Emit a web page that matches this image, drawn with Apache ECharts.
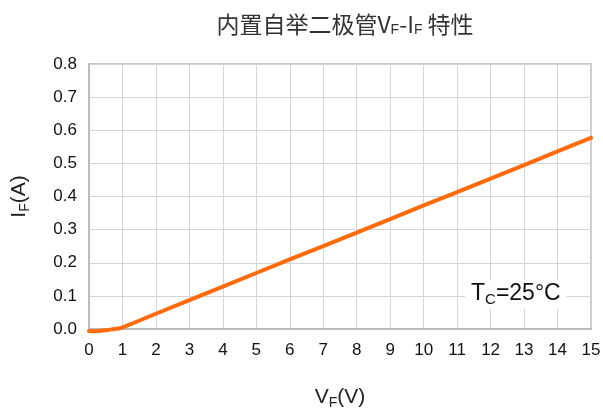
<!DOCTYPE html>
<html><head><meta charset="utf-8">
<script src="https://cdn.jsdelivr.net/npm/echarts@6/dist/echarts.min.js"></script>
<style>html,body{margin:0;padding:0;background:#fff}#c{width:603px;height:409px}</style>
</head><body><div id="c"></div>
<script>
var vf = [0, 0.15, 0.3, 0.5, 0.7, 0.95, 2, 4, 6, 8, 10, 12, 14, 15];
var iF = [-0.006, -0.007, -0.006, -0.004, -0.001, 0.003, 0.046, 0.128, 0.210, 0.291, 0.373, 0.454, 0.536, 0.577];
var xTicks = [0,1,2,3,4,5,6,7,8,9,10,11,12,13,14,15];
var yTicks = ['0.0','0.1','0.2','0.3','0.4','0.5','0.6','0.7','0.8'];
var font = 'Liberation Sans, Arial, sans-serif';
var chart = echarts.init(document.getElementById('c'));
chart.setOption({
  animation: false,
  title: [{
    text: '内置自举二极管V{s|F}-I{s|F} 特性',
    left: 340, top: 7, textAlign: 'center',
    textStyle: {fontSize: 23, fontWeight: 'normal', color: '#333', fontFamily: 'Noto Sans CJK SC, sans-serif',
      rich: {s: {fontSize: 14, color: '#333', fontFamily: font, padding: [11,0,0,0]}}}
  }, {
    text: 'T{s|C}=25°C',
    left: 465, top: 279,
    backgroundColor: '#fff', padding: [2, 6, 2, 6],
    textStyle: {fontSize: 23, fontWeight: 'normal', color: '#111', fontFamily: font,
      rich: {s: {fontSize: 15, color: '#111', fontFamily: font, padding: [11,0,0,0]}}}
  }],
  grid: {left: 89, right: 12, top: 64, bottom: 80, containLabel: false, outerBoundsMode: 'none'},
  xAxis: {
    type: 'value', min: 0, max: 15, interval: 1,
    name: 'V{s|F}(V)', nameLocation: 'middle', nameGap: 56,
    nameTextStyle: {fontSize: 21, color: '#222', fontFamily: font,
      rich: {s: {fontSize: 14, color: '#222', fontFamily: font, padding: [11,0,0,0]}}},
    axisLine: {lineStyle: {color: '#bbb', width: 2}},
    axisTick: {show: false},
    axisLabel: {fontSize: 17, color: '#111', fontFamily: font, margin: 13,
      formatter: function(v){ return xTicks.indexOf(v) >= 0 ? String(v) : ''; }},
    splitLine: {show: true, lineStyle: {color: '#d4d4d4', width: 1}}
  },
  yAxis: {
    type: 'value', min: 0, max: 0.8, interval: 0.1,
    name: 'I{s|F}(A)', nameLocation: 'middle', nameGap: 57, nameRotate: 90,
    nameTextStyle: {fontSize: 21, color: '#222', fontFamily: font,
      rich: {s: {fontSize: 14, color: '#222', fontFamily: font, padding: [11,0,0,0]}}},
    axisLine: {show: true, lineStyle: {color: '#bbb', width: 2}},
    axisTick: {show: false},
    axisLabel: {fontSize: 17, color: '#111', fontFamily: font, margin: 12,
      formatter: function(v){ return yTicks[Math.round(v*10)]; }},
    splitLine: {show: true, lineStyle: {color: '#d4d4d4', width: 1}}
  },
  series: [{
    type: 'line', smooth: 0.2, symbol: 'none', clip: false,
    lineStyle: {color: '#ff6a0a', width: 4, cap: 'round'},
    data: vf.map(function(x, i){ return [x, iF[i]]; })
  }],
  graphic: [{
    type: 'rect', shape: {x: 89, y: 64, width: 502, height: 265},
    style: {fill: 'none', stroke: '#c8c8c8', lineWidth: 2}, z: 0, silent: true
  }]
});
</script></body></html>
